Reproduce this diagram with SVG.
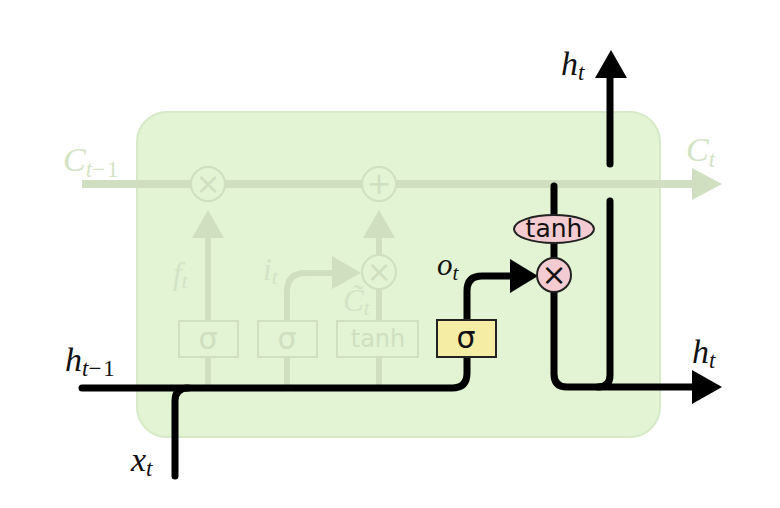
<svg xmlns="http://www.w3.org/2000/svg" width="780" height="508" viewBox="0 0 780 508">
<style>
.fl{fill:none;stroke:#cfdfc0;stroke-width:6;stroke-linecap:butt}
.fa{fill:#cfdfc0;stroke:none}
.fb{fill:#e2f4d4;stroke:#cfdfc0;stroke-width:2}
.ft{fill:#cfdfc0;font-family:"DejaVu Sans","Liberation Sans",sans-serif}
.bl{fill:none;stroke:#000;stroke-width:7;stroke-linecap:round;stroke-linejoin:round}
.ba{fill:#000;stroke:none}
.m{font-family:"Liberation Serif","DejaVu Serif",serif;font-style:italic}
.mk{fill:#111}
.mf{fill:#d3e3c6}
.s{font-family:"DejaVu Sans","Liberation Sans",sans-serif}
</style>
<rect width="780" height="508" fill="#fff"/>
<g id="cell">
<rect x="137" y="112" width="523" height="325" rx="30" fill="#e2f4d4" stroke="#d6eac7" stroke-width="2"/>
</g>
<g id="connectors">
<line class="fl" x1="82" y1="184" x2="694" y2="184" style="stroke-width:8"/>
<polygon class="fa" points="692,168 722,184 692,200"/>
<line class="fl" x1="208" y1="388" x2="208" y2="236"/>
<polygon class="fa" points="192,238 208,210 224,238"/>
<line class="fl" x1="379" y1="388" x2="379" y2="289"/>
<line class="fl" x1="379" y1="255" x2="379" y2="236"/>
<polygon class="fa" points="363,238 379,210 395,238"/>
<path class="fl" d="M287,388 V292 Q287,273 306,273 H334"/>
<polygon class="fa" points="332,256 361,273 332,289"/>
<path class="bl" d="M82,388 H452 Q467,388 467,373 V357"/>
<path class="bl" d="M175,476 V401 Q175,388 188,388"/>
<path class="bl" d="M467,320 V291 Q467,276 482,276 H512"/>
<polygon class="ba" points="510,259 538,276 510,293"/>
<path class="bl" d="M554,186 V215"/>
<path class="bl" d="M554,243 V258"/>
<path class="bl" d="M554,292 V374 Q554,387 567,387 H694"/>
<polygon class="ba" points="692,370 722,387 692,404"/>
<path class="bl" d="M610,201 V375 Q610,387 598,387"/>
<path class="bl" d="M610,164 V76"/>
<polygon class="ba" points="595,78 611,50 627,78"/>
</g>
<g id="forget-mult">
<circle class="fb" cx="208" cy="184" r="17"/>
<text class="ft" x="208" y="194" font-size="30" text-anchor="middle">×</text>
</g>
<g id="add">
<circle class="fb" cx="379" cy="184" r="17"/>
<text class="ft" x="379" y="194" font-size="30" text-anchor="middle">+</text>
</g>
<g id="input-mult">
<circle class="fb" cx="379" cy="272" r="17"/>
<text class="ft" x="379" y="282" font-size="30" text-anchor="middle">×</text>
</g>
<g id="forget-gate">
<rect class="fb" x="179" y="321" width="59" height="36"/>
<text class="ft" x="208" y="349" font-size="30" text-anchor="middle">σ</text>
</g>
<g id="input-gate">
<rect class="fb" x="258" y="321" width="59" height="36"/>
<text class="ft" x="287" y="349" font-size="30" text-anchor="middle">σ</text>
</g>
<g id="candidate">
<rect class="fb" x="337" y="321" width="81" height="36"/>
<text class="ft" x="378" y="347" font-size="24" text-anchor="middle">tanh</text>
</g>
<g id="output-gate">
<rect x="437" y="320" width="59" height="37" fill="#f6eda5" stroke="#222" stroke-width="2"/>
<text class="s" x="466" y="348" font-size="30" text-anchor="middle" fill="#111">σ</text>
</g>
<g id="output-tanh">
<ellipse cx="554" cy="229" rx="40" ry="14" fill="#f3cbd0" stroke="#222" stroke-width="2"/>
<text class="s" x="554" y="237" font-size="25" text-anchor="middle" fill="#111">tanh</text>
</g>
<g id="output-mult">
<circle cx="554" cy="275" r="17" fill="#f3cbd0" stroke="#222" stroke-width="2"/>
<text class="s" x="554" y="285" font-size="30" text-anchor="middle" fill="#111">×</text>
</g>
<g id="labels">
<text class="m mf" x="63" y="171" font-size="34">C<tspan dy="6" font-size="23">t</tspan><tspan font-style="normal" font-size="23" letter-spacing="2">−1</tspan></text>
<text class="m mf" x="686" y="161" font-size="34">C<tspan dy="6" font-size="23">t</tspan></text>
<text class="m mf" x="173" y="284" font-size="31">f<tspan dy="4" font-size="21">t</tspan></text>
<text class="m mf" x="263" y="280" font-size="31">i<tspan dy="4" font-size="21">t</tspan></text>
<text class="m mf" x="343" y="311" font-size="31">C̃<tspan dy="4" font-size="21">t</tspan></text>
<text class="m mk" x="437" y="275" font-size="31">o<tspan dy="5" font-size="21">t</tspan></text>
<text class="m mk" x="65" y="371" font-size="34">h<tspan dy="5" font-size="23">t</tspan><tspan font-style="normal" font-size="23" letter-spacing="2">−1</tspan></text>
<text class="m mk" x="131" y="471" font-size="34">x<tspan dy="5" font-size="23">t</tspan></text>
<text class="m mk" x="561" y="75" font-size="34">h<tspan dy="5" font-size="23">t</tspan></text>
<text class="m mk" x="692" y="363" font-size="34">h<tspan dy="5" font-size="23">t</tspan></text>
</g>
</svg>
